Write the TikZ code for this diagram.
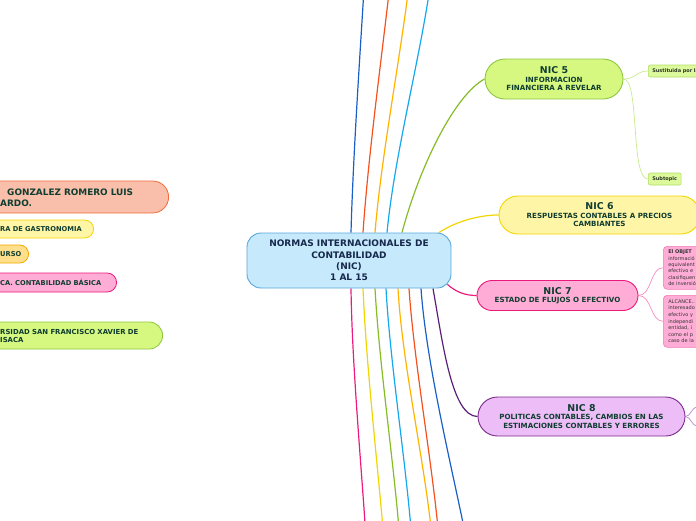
\documentclass[tikz,border=0pt]{standalone}
\usepackage{fontspec}
\setmainfont{DejaVu Sans}
\usepackage[usenames,dvipsnames]{xcolor}
\usepackage{tikz}
\usetikzlibrary{backgrounds}

\definecolor{mainfill}{HTML}{C6E9FB}
\definecolor{mainline}{HTML}{5AA6DC}
\definecolor{maintext}{HTML}{16284C}
\definecolor{nictext}{HTML}{0F3D30}
\definecolor{limefill}{HTML}{D6F780}
\definecolor{limeline}{HTML}{8DC63F}
\definecolor{yelfill}{HTML}{FFF5A6}
\definecolor{yelline}{HTML}{F2D500}
\definecolor{pinkfill}{HTML}{FFADD6}
\definecolor{pinkline}{HTML}{E8197A}
\definecolor{lilafill}{HTML}{ECBDF7}
\definecolor{lilaline}{HTML}{7A2A8A}
\definecolor{salmfill}{HTML}{F9BFAA}
\definecolor{salmline}{HTML}{F26B3A}
\definecolor{orfill}{HTML}{FFDF8C}
\definecolor{orline}{HTML}{F5A700}
\definecolor{sublime}{HTML}{DCF99C}
\definecolor{sublimeline}{HTML}{B2DD66}
\definecolor{subpinkline}{HTML}{F27AB4}
\definecolor{subtext}{HTML}{2B3424}
\definecolor{brblue}{HTML}{1A5FC8}
\definecolor{brred}{HTML}{F4511E}
\definecolor{bramber}{HTML}{FFB300}
\definecolor{brcyan}{HTML}{14A8EE}
\definecolor{brgreen}{HTML}{86BC25}
\definecolor{bryellow}{HTML}{F0D500}
\definecolor{brpink}{HTML}{EC1C7C}
\definecolor{brpurple}{HTML}{5C1E78}
\definecolor{twiglime}{HTML}{C8E98E}
\definecolor{twigpink}{HTML}{F58CC0}
\definecolor{twiglila}{HTML}{B68AC6}

\newcommand{\nicnum}[1]{{\fontsize{9.4}{11}\selectfont #1}}

\tikzset{
  maintopic/.style={draw=mainline, fill=mainfill, line width=0.9pt, rounded corners=14pt,
    minimum width=204pt, minimum height=55pt, align=center, text=maintext,
    font=\bfseries\fontsize{9}{11.3}\selectfont},
  nicbox/.style={line width=0.9pt, align=center, text=nictext, inner sep=0pt,
    font=\bfseries\fontsize{7.1}{8.5}\selectfont},
  subbox/.style={draw=sublimeline, fill=sublime, line width=0.6pt, rounded corners=2pt,
    minimum height=12pt, inner xsep=4pt, inner ysep=0pt, anchor=west, text=subtext,
    font=\bfseries\fontsize{5}{6}\selectfont},
  notebox/.style={draw=subpinkline, fill=pinkfill, line width=0.6pt, rounded corners=4pt,
    anchor=north west, text width=60pt, align=left, inner xsep=5pt, inner ysep=0pt, text=black!80,
    font=\fontsize{5}{6.3}\selectfont},
  sidebox/.style={line width=0.8pt, anchor=east, minimum width=220pt},
  sidetext/.style={anchor=base west, inner sep=0pt, align=left, text width=180pt, text=nictext},
  branch/.style={line width=1.2pt},
  twig/.style={line width=0.7pt}
}

\begin{document}
\begin{tikzpicture}[x=1pt,y=-1pt]
   \useasboundingbox (0,0) rectangle (696,520);
   \clip (0,0) rectangle (696,520);

   \draw (349,260.5) node[maintopic] (nic) {NORMAS INTERNACIONALES DE\\CONTABILIDAD\\(NIC)\\1 AL 15};

   \draw (554,79) node[nicbox, draw=limeline, fill=limefill, rounded corners=20pt,
      minimum width=138pt, minimum height=40pt] (nic5)
      {\nicnum{NIC 5}\\INFORMACION\\FINANCIERA A REVELAR};
   \draw (599.5,215) node[nicbox, draw=yelline, fill=yelfill, rounded corners=19pt,
      minimum width=201pt, minimum height=38pt] (nic6)
      {\nicnum{NIC 6}\\RESPUESTAS CONTABLES A PRECIOS\\CAMBIANTES};
   \draw (557.5,295.5) node[nicbox, draw=pinkline, fill=pinkfill, rounded corners=15pt,
      minimum width=161pt, minimum height=30pt] (nic7)
      {\nicnum{NIC 7}\\ESTADO DE FLUJOS O EFECTIVO};
   \draw (581.5,416.5) node[nicbox, draw=lilaline, fill=lilafill, rounded corners=19.5pt,
      minimum width=207pt, minimum height=39pt] (nic8)
      {\nicnum{NIC 8}\\POLITICAS CONTABLES, CAMBIOS EN LAS\\ESTIMACIONES CONTABLES Y ERRORES};

   \draw (648,71) node[subbox, text width=64pt, align=left] (sust) {Sustituida por la};
   \draw (648,179) node[subbox] (subt) {Subtopic};

   \draw (663,246) node[notebox, minimum height=43pt] (objet)
      {\textbf{El OBJET}\\informació\\equivalent\\efectivo e\\clasifiquen\\de inversió};
   \draw (663,295) node[notebox, minimum height=52pt, font=\fontsize{5}{6.6}\selectfont] (alcance)
      {ALCANCE..\\interesado\\efectivo y\\independi\\entidad, i\\como el p\\caso de la};

   \draw (169,197) node[sidebox, draw=salmline, fill=salmfill, minimum height=32pt, rounded corners=16pt] (student) {};
   \draw (94,229) node[sidebox, draw=yelline, fill=yelfill, minimum height=18pt, rounded corners=9pt] (career) {};
   \draw (29,254) node[sidebox, draw=orline, fill=orfill, minimum height=18pt, rounded corners=9pt] (course) {};
   \draw (117,282.5) node[sidebox, draw=pinkline, fill=pinkfill, minimum height=19pt, rounded corners=9.5pt] (subject) {};
   \draw (163,335.5) node[sidebox, draw=limeline, fill=limefill, minimum height=27pt, rounded corners=13.5pt] (univ) {};

   \draw (0,195.7) node[sidetext, font=\bfseries\fontsize{8.9}{11}\selectfont] (studenttxt)
      {\hspace*{7pt}GONZALEZ ROMERO LUIS\\ARDO.};
   \draw (0,231.7) node[sidetext, font=\bfseries\fontsize{6.7}{8}\selectfont] (careertxt) {RA DE GASTRONOMIA};
   \draw (0,256.7) node[sidetext, font=\bfseries\fontsize{6.7}{8}\selectfont] (coursetxt) {URSO};
   \draw (0,285.7) node[sidetext, font=\bfseries\fontsize{6.7}{8}\selectfont] (subjecttxt) {CA. CONTABILIDAD BÁSICA};
   \draw (0,334.3) node[sidetext, font=\bfseries\fontsize{6.9}{8}\selectfont] (univtxt)
      {RSIDAD SAN FRANCISCO XAVIER DE\\ISACA};

   \coordinate (top1) at (363.5,-3);
   \coordinate (top2) at (388.5,-3);
   \coordinate (top3) at (407.5,-3);
   \coordinate (top4) at (428.5,-3);
   \coordinate (bot1) at (365,523);
   \coordinate (bot2) at (382.5,523);
   \coordinate (bot3) at (398.5,523);
   \coordinate (bot4) at (410.5,523);
   \coordinate (bot5) at (430.5,523);
   \coordinate (bot6) at (437.5,523);
   \coordinate (bot7) at (463,523);
   \coordinate (nic8a) at (698,407);
   \coordinate (nic8b) at (698,426);

   \begin{scope}[on background layer]
     \draw[branch, brblue] ([xshift=2pt]nic.north) .. controls (353,160) and (359,70) .. (top1);
     \draw[branch, brred] ([xshift=14pt]nic.north) .. controls (368,160) and (380,70) .. (top2);
     \draw[branch, bramber] ([xshift=26pt]nic.north) .. controls (381,160) and (398,70) .. (top3);
     \draw[branch, brcyan] ([xshift=38pt]nic.north) .. controls (394,160) and (417,70) .. (top4);
     \draw[branch, brgreen] ([xshift=53pt]nic.north) .. controls (420,165) and (455,95) .. (nic5.west);
     \draw[branch, bryellow] ([xshift=90pt]nic.north) .. controls (455,222) and (478,215) .. (nic6.west);
     \draw[branch, brpink] ([xshift=-4pt,yshift=4pt]nic.south east) .. controls (456,292) and (465,295.5) .. (nic7.west);
     \draw[branch, brpurple] ([xshift=84pt]nic.south) .. controls (443,345) and (452,416.5) .. (nic8.west);

     \draw[branch, brpink] ([xshift=2pt]nic.south) .. controls (352,360) and (360,450) .. (bot1);
     \draw[branch, bryellow] ([xshift=14pt]nic.south) .. controls (366,360) and (376,450) .. (bot2);
     \draw[branch, brgreen] ([xshift=26pt]nic.south) .. controls (379,360) and (392,450) .. (bot3);
     \draw[branch, brcyan] ([xshift=37pt]nic.south) .. controls (390,360) and (404,450) .. (bot4);
     \draw[branch, bramber] ([xshift=49pt]nic.south) .. controls (402,360) and (422,450) .. (bot5);
     \draw[branch, brred] ([xshift=60pt]nic.south) .. controls (414,360) and (430,450) .. (bot6);
     \draw[branch, brblue] ([xshift=72pt]nic.south) .. controls (426,360) and (450,460) .. (bot7);

     \draw[twig, twiglime] (nic5.east) .. controls (636,79) and (636,71) .. (sust.west);
     \draw[twig, twiglime] (nic5.east) .. controls (640,79) and (630,179) .. (subt.west);
     \draw[twig, twigpink] (nic7.east) .. controls (652,295.5) and (650,267.5) .. (objet.west);
     \draw[twig, twigpink] (nic7.east) .. controls (652,295.5) and (650,321) .. (alcance.west);
     \draw[twig, twiglila] (nic8.east) .. controls (691,416.5) and (691,407) .. (nic8a);
     \draw[twig, twiglila] (nic8.east) .. controls (691,416.5) and (691,426) .. (nic8b);
   \end{scope}
\end{tikzpicture}
\end{document}
